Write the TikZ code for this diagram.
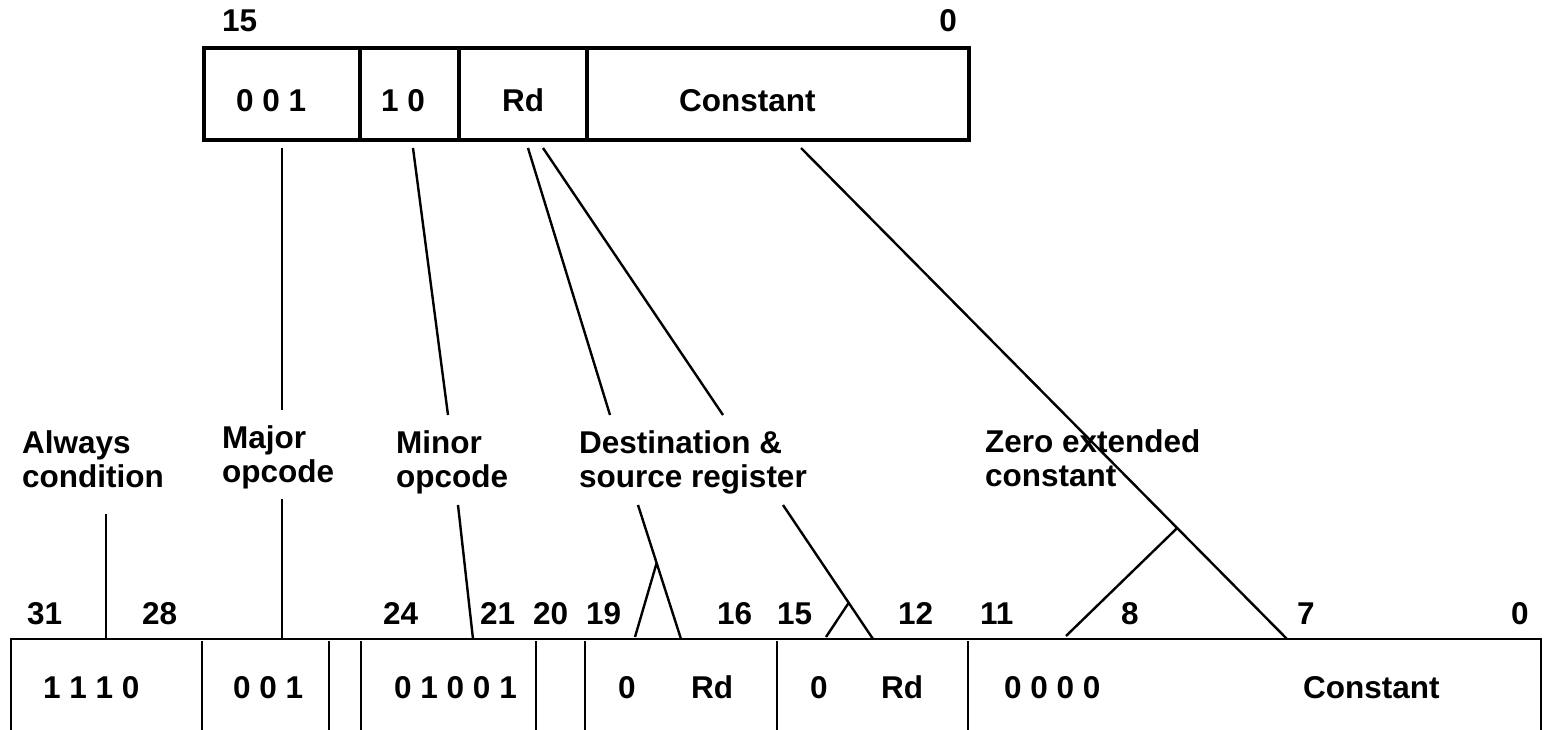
\documentclass[tikz,border=0pt]{standalone}
\usepackage{fontspec}
\setmainfont{Liberation Sans}
\usetikzlibrary{calc}
\begin{document}
\begin{tikzpicture}[x=1pt,y=-1pt,
  txt/.style={font=\bfseries\fontsize{31.5}{34}\selectfont,inner sep=0pt,anchor=base west},
  lab/.style={txt,align=left},
  wordbox/.style={line width=4pt},
  wordcell/.style={line width=2.8pt},
  wire/.style={line width=2.4pt}]
\useasboundingbox (0,0) rectangle (1544,730);
\fill[white] (0,0) rectangle (1544,730);

% ---- 16-bit instruction word ----
\draw[wordbox] (204,48) rectangle (969,140);
\draw[wordbox] (360,48) -- (360,140) (459,48) -- (459,140) (587,48) -- (587,140);
\node[txt] (t15) at (222,32) {15};
\node[txt,anchor=base east] (t0) at (957,32) {0};
\node[txt] (tmaj) at (236,112) {0 0 1};
\node[txt] (tmin) at (381,112) {1 0};
\node[txt,anchor=base] (trd) at (523,112) {Rd};
\node[txt] (tcon) at (679,112) {Constant};

% ---- 32-bit instruction word ----
\draw[wordcell] (11,731) -- (11,639) -- (1541,639) -- (1541,731);
\foreach \x in {202,329,361,536,585,777,968}
  \draw[wordcell] (\x,641) -- (\x,731);
\foreach \n/\x/\t in {b31/27/31,b28/142/28,b24/383/24,b21/480/21,b20/533/20,b19/586/19,
    b16/717/16,b15/777/15,b12/898/12,b11/980/11,b8/1121/8,b7/1297/7,b0/1511/0}
  \node[txt] (\n) at (\x,624) {\t};
\node[txt] (cond) at (43,698) {1 1 1 0};
\node[txt] (bmaj) at (233,698) {0 0 1};
\node[txt] (bmin) at (394,698) {0 1 0 0 1};
\node[txt] (bz1) at (618,698) {0};
\node[txt] (brd1) at (691,698) {Rd};
\node[txt] (bz2) at (810,698) {0};
\node[txt] (brd2) at (881,698) {Rd};
\node[txt] (bzero) at (1004,698) {0 0 0 0};
\node[txt] (bcon) at (1303,698) {Constant};

% ---- field descriptions (positioned by the baseline of their last line) ----
\node[lab] (lalw) at (22,487) {Always\\condition};
\node[lab] (lmaj) at (222,482) {Major\\opcode};
\node[lab] (lmin) at (396,487) {Minor\\opcode};
\node[lab] (ldst) at (579,487) {Destination \&\\source register};
\node[lab] (lzero) at (985,486) {Zero extended\\constant};

% ---- connector end points ----
\coordinate (alw-n) at (106,514);  \coordinate (alw-b) at (106,639);
\coordinate (maj-t) at (282,148);  \coordinate (maj-m) at (282,410);
\coordinate (maj-n) at (282,499);  \coordinate (maj-b) at (282,639);
\coordinate (min-t) at (413,148);  \coordinate (min-m) at (448,415);
\coordinate (min-n) at (458,505);  \coordinate (min-b) at (473,639);
\coordinate (dst-t) at (528,148);  \coordinate (dst-m) at (610,415);
\coordinate (dst-n) at (638,505);  \coordinate (dst-b) at (681,639);
\coordinate (src-t) at (543,148);  \coordinate (src-m) at (723,415);
\coordinate (src-n) at (783,505);  \coordinate (src-b) at (873,639);
\coordinate (con-t) at (801,148);  \coordinate (con-b) at (1287,639);
\coordinate (dst-k) at ($(dst-n)!0.433!(dst-b)$); \coordinate (dst-z) at (635,637);
\coordinate (src-k) at ($(src-n)!0.73!(src-b)$);  \coordinate (src-z) at (826,637);
\coordinate (con-k) at ($(con-t)!0.774!(con-b)$); \coordinate (con-z) at (1066,636);

% ---- connectors ----
\draw[wire] (alw-n) -- (alw-b);
\draw[wire] (maj-t) -- (maj-m) (maj-n) -- (maj-b);
\draw[wire] (min-t) -- (min-m) (min-n) -- (min-b);
\draw[wire] (dst-t) -- (dst-m) (dst-n) -- (dst-b) (dst-k) -- (dst-z);
\draw[wire] (src-t) -- (src-m) (src-n) -- (src-b) (src-k) -- (src-z);
\draw[wire] (con-t) -- (con-b) (con-k) -- (con-z);
\end{tikzpicture}
\end{document}
